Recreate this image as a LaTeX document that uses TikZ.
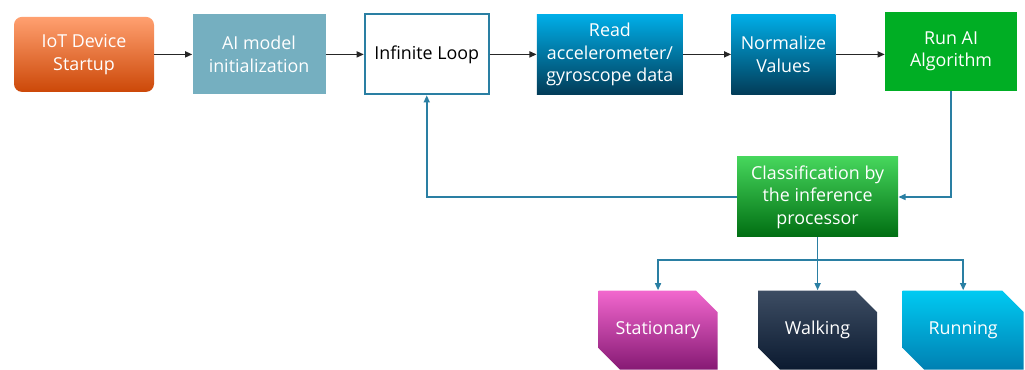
\documentclass[tikz,border=0pt]{standalone}
\usepackage{fontspec}
\setmainfont{Open Sans}
\usetikzlibrary{positioning,arrows.meta,shapes.misc,calc}
\usepackage{xcolor}
\definecolor{orangeTop}{HTML}{FFA070}
\definecolor{orangeMid}{HTML}{F8712C}
\definecolor{orangeBot}{HTML}{CC4808}
\definecolor{tealFlat}{HTML}{75AFC0}
\definecolor{loopLine}{HTML}{2A7FA3}
\definecolor{blueTop}{HTML}{00AEE8}
\definecolor{blueBot}{HTML}{023C58}
\definecolor{greenRun}{HTML}{00AE24}
\definecolor{greenTop}{HTML}{46D65C}
\definecolor{greenMid}{HTML}{00AE22}
\definecolor{greenBot}{HTML}{006E12}
\definecolor{pinkTop}{HTML}{F267CE}
\definecolor{pinkBot}{HTML}{861A74}
\definecolor{navyTop}{HTML}{3D4D63}
\definecolor{navyBot}{HTML}{0B1A30}
\definecolor{cyanTop}{HTML}{00CAF2}
\definecolor{cyanBot}{HTML}{0080B2}

\begin{document}
\begin{tikzpicture}[
  font=\fontsize{12.7}{16}\selectfont, >={Triangle[length=1.8mm,width=1.5mm]},
  box/.style={align=center, inner sep=2pt, text=white, minimum height=20mm},
  flow/.style={->, line width=0.4mm, black!85},
  back/.style={->, line width=0.4mm, loopLine},
  outcome/.style={chamfered rectangle, chamfered rectangle corners={north east,south west},
    chamfered rectangle xsep=3.2mm, chamfered rectangle ysep=3.2mm,
    text=white, minimum width=29.75mm, minimum height=19.75mm, inner sep=0pt},
]
\useasboundingbox (0,0) rectangle (256.25mm,-92.5mm);

% main pipeline
\node[box, rounded corners=2mm, top color=orangeTop, middle color=orangeMid, bottom color=orangeBot,
  minimum width=35mm, minimum height=18.75mm] (startup) at (21mm,-13.6mm) {IoT Device\\Startup};
\node[box, fill=tealFlat, minimum width=33.25mm, right=9.5mm of startup] (init) {AI model\\initialization};
\node[box, draw=loopLine, line width=0.45mm, fill=white, text=black,
  minimum width=31mm, right=9.5mm of init] (loop) {Infinite Loop};
\node[box, top color=blueTop, bottom color=blueBot, minimum width=36.5mm,
  right=11.75mm of loop] (read) {Read\\accelerometer/\\gyroscope data};
\node[box, top color=blueTop, bottom color=blueBot, minimum width=26mm,
  right=12mm of read] (norm) {Normalize\\Values};
\node[box, fill=greenRun, minimum width=33mm, minimum height=19.75mm,
  right=12.25mm of norm, yshift=0.75mm] (runai) {Run AI\\Algorithm};
\draw[flow] (startup) -- (init);
\draw[flow] (init) -- (loop);
\draw[flow] (loop) -- (read);
\draw[flow] (read) -- (norm);
\draw[flow] (norm) -- (runai.west |- norm);

% inference + feedback
\node[box, top color=greenTop, middle color=greenMid, bottom color=greenBot, minimum width=40.25mm]
  (classify) at (204.4mm,-49.25mm) {Classification by\\the inference\\processor};
\draw[back] (runai.south) |- (classify.east);
\draw[back] (classify.west) -| (loop.south);

% activity classes
\node[outcome, top color=navyTop, bottom color=navyBot, below=13.25mm of classify] (walk) {Walking};
\node[outcome, top color=pinkTop, bottom color=pinkBot, left=10mm of walk] (stat) {Stationary};
\node[outcome, top color=cyanTop, bottom color=cyanBot, right=6.25mm of walk,
  minimum width=30.25mm] (running) {Running};
\coordinate[below=5.75mm of classify.south] (fork);
\draw[back] (classify.south) -- (walk.north);
\draw[back] (fork) -| (stat.north);
\draw[back] (fork) -| (running.north);
\end{tikzpicture}
\end{document}
